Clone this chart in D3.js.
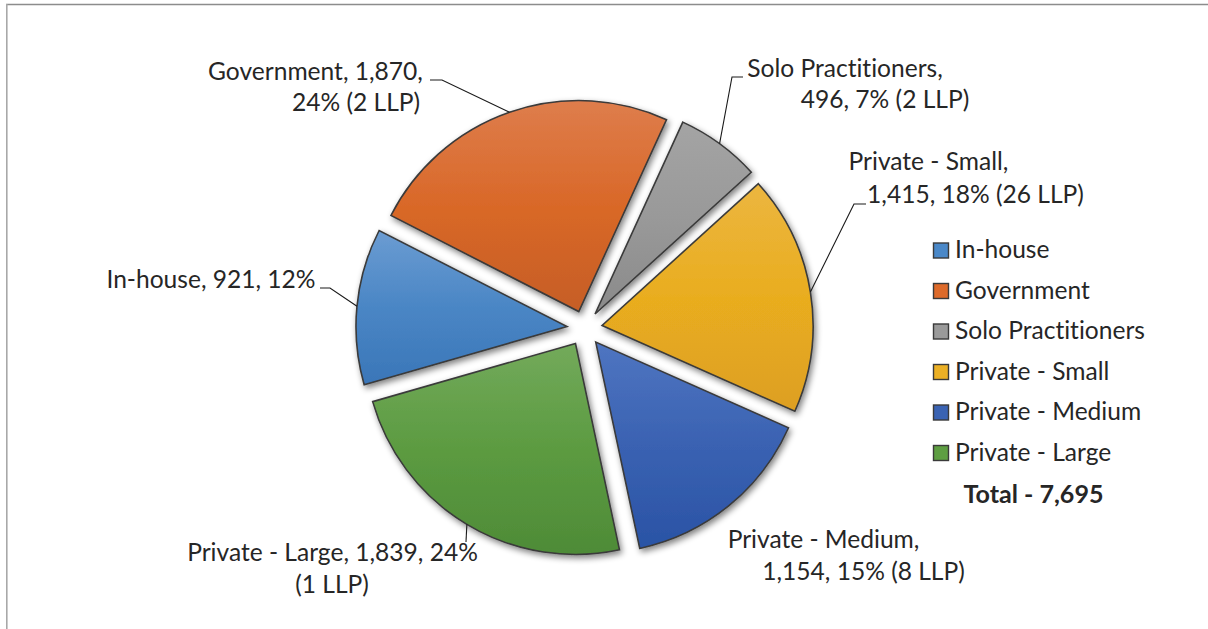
<!DOCTYPE html>
<html>
<head>
<meta charset="utf-8">
<script src="https://cdn.jsdelivr.net/npm/d3@7"></script>
<style>
  html, body { margin: 0; padding: 0; background: #fff; }
  svg { display: block; }
  text { font-family: Lato, "Open Sans", sans-serif; fill: #262626; font-variant-ligatures: none; font-feature-settings: "liga" 0, "clig" 0; }
</style>
</head>
<body>
<svg id="chart" width="1208" height="629"></svg>
<script>
// ---------------- DATA ----------------
const categories = ["In-house", "Government", "Solo Practitioners", "Private - Small", "Private - Medium", "Private - Large"];
const values = [921, 1870, 496, 1415, 1154, 1839];
const percentLabels = ["12%", "24%", "7%", "18%", "15%", "24%"];
const llpLabels = ["", "2 LLP", "2 LLP", "26 LLP", "8 LLP", "1 LLP"];
const totalLabel = "Total - 7,695";

// ---------------- STYLE / LAYOUT ----------------
const gradColors = [
  ["#6b9cd2", "#4a86c5", "#3a76b8"],
  ["#de7d4c", "#d96828", "#c65e27"],
  ["#a4a4a4", "#999999", "#8a8a8a"],
  ["#ecb640", "#e9ad1f", "#dd9f22"],
  ["#4f75c1", "#3a62b2", "#2a53a5"],
  ["#73aa5b", "#5c9b41", "#4e8b37"]
];
const legendColors = ["#4a88c8", "#dd6a2a", "#9a9a9a", "#ebb025", "#3a63b3", "#5e9e42"];

// label layout: words on first line, centre x and baseline y of each line, leader elbow points
const labelLayout = [
  { words: 99, lines: [[211, 288]], leader: [[330, 288], [320, 288]] },
  { words: 2, lines: [[315.5, 80], [356, 111]], leader: [[442, 80], [430, 80]] },
  { words: 2, lines: [[845, 77], [885, 108]], leader: [[732, 77], [743, 77]] },
  { words: 3, lines: [[928.5, 170], [975.5, 203]], leader: [[854, 204], [866, 204]] },
  { words: 3, lines: [[823.5, 548], [863.5, 580]], leader: null },
  { words: 5, lines: [[332.5, 561], [332, 593]], leader: [[466, 542]] }
];

const cx = 584.6, cy = 328.3, radius = 211, explode = 17.7;
const startDeg = 254;

const svg = d3.select("#chart");

// ---- font size fitting (substitute for Calibri) ----
const probe = svg.append("text").attr("font-size", 26).text("Government, 1,870,");
const probeW = probe.node().getComputedTextLength();
probe.remove();
const fontSize = 26 * 215 / probeW;

// ---- defs ----
const defs = svg.append("defs");
const filter = defs.append("filter").attr("id", "shadow")
  .attr("x", "-20%").attr("y", "-20%").attr("width", "140%").attr("height", "140%");
filter.append("feGaussianBlur").attr("in", "SourceAlpha").attr("stdDeviation", 3.2).attr("result", "blur");
filter.append("feOffset").attr("in", "blur").attr("dx", 1.5).attr("dy", 2.5).attr("result", "off");
filter.append("feComponentTransfer").attr("in", "off").attr("result", "offA")
  .append("feFuncA").attr("type", "linear").attr("slope", 0.5);
const merge = filter.append("feMerge");
merge.append("feMergeNode").attr("in", "offA");
merge.append("feMergeNode").attr("in", "SourceGraphic");

gradColors.forEach((c, i) => {
  const g = defs.append("linearGradient").attr("id", "grad" + i)
    .attr("x1", 0).attr("y1", 0).attr("x2", 0).attr("y2", 1);
  g.append("stop").attr("offset", "0%").attr("stop-color", c[0]);
  g.append("stop").attr("offset", "50%").attr("stop-color", c[1]);
  g.append("stop").attr("offset", "100%").attr("stop-color", c[2]);
});

// ---- chart border (top and left) ----
svg.append("line").attr("x1", 6).attr("y1", 4.5).attr("x2", 1208).attr("y2", 4.5)
  .attr("stroke", "#8c8c8c").attr("stroke-width", 1.5);
svg.append("line").attr("x1", 6.8).attr("y1", 4).attr("x2", 6.8).attr("y2", 629)
  .attr("stroke", "#a8a8a8").attr("stroke-width", 1.6);

// ---- pie ----
const start = startDeg * Math.PI / 180;
const pie = d3.pie().sort(null).value(d => d.value)
  .startAngle(start).endAngle(start + 2 * Math.PI);
const data = categories.map((c, i) => ({ cat: c, value: values[i], i }));
const arcs = pie(data);
const arc = d3.arc().innerRadius(0).outerRadius(radius);

const pieG = svg.append("g").attr("transform", `translate(${cx},${cy})`);

function offsetOf(a) {
  const m = (a.startAngle + a.endAngle) / 2;
  return [explode * Math.sin(m), -explode * Math.cos(m)];
}

pieG.selectAll("path.slice").data(arcs).join("path")
  .attr("class", "slice")
  .attr("transform", a => { const o = offsetOf(a); return `translate(${o[0]},${o[1]})`; })
  .attr("d", arc)
  .attr("fill", a => `url(#grad${a.data.i})`)
  .attr("stroke", "#3a3a3a")
  .attr("stroke-width", 1.6)
  .attr("stroke-linejoin", "miter")
  .attr("filter", "url(#shadow)");

// ---- labels ----
const fmt = d3.format(",");
const labelG = svg.append("g");
arcs.forEach(a => {
  const i = a.data.i;
  const lay = labelLayout[i];
  let full = `${a.data.cat}, ${fmt(a.data.value)}, ${percentLabels[i]}`;
  if (llpLabels[i]) full += ` (${llpLabels[i]})`;
  const words = full.split(" ");
  const lines = [words.slice(0, lay.words).join(" ")];
  if (words.length > lay.words) lines.push(words.slice(lay.words).join(" "));
  lines.forEach((t, k) => {
    labelG.append("text")
      .attr("x", lay.lines[k][0]).attr("y", lay.lines[k][1])
      .attr("text-anchor", "middle")
      .attr("font-size", fontSize)
      .text(t);
  });
  if (lay.leader) {
    const m = (a.startAngle + a.endAngle) / 2;
    const o = offsetOf(a);
    const p0 = [cx + o[0] + radius * Math.sin(m), cy + o[1] - radius * Math.cos(m)];
    const pts = [p0].concat(lay.leader);
    labelG.append("path")
      .attr("d", d3.line()(pts))
      .attr("fill", "none").attr("stroke", "#1a1a1a").attr("stroke-width", 1.1);
  }
});

// ---- legend ----
const legendG = svg.append("g").attr("transform", "translate(933.5,243)");
const rowH = 40.5;
categories.forEach((c, i) => {
  const g = legendG.append("g").attr("transform", `translate(0,${i * rowH})`);
  g.append("rect").attr("x", 0).attr("y", 0).attr("width", 15).attr("height", 15)
    .attr("fill", legendColors[i]).attr("stroke", "#3a3a3a").attr("stroke-width", 1.4);
  g.append("text").attr("x", 21.5).attr("y", 15).attr("font-size", fontSize).text(c);
});
legendG.append("text")
  .attr("x", 1033.5 - 933.5).attr("y", 503 - 243)
  .attr("text-anchor", "middle")
  .attr("font-size", fontSize * 1.02).attr("font-weight", "bold")
  .text(totalLabel);
</script>
</body>
</html>
